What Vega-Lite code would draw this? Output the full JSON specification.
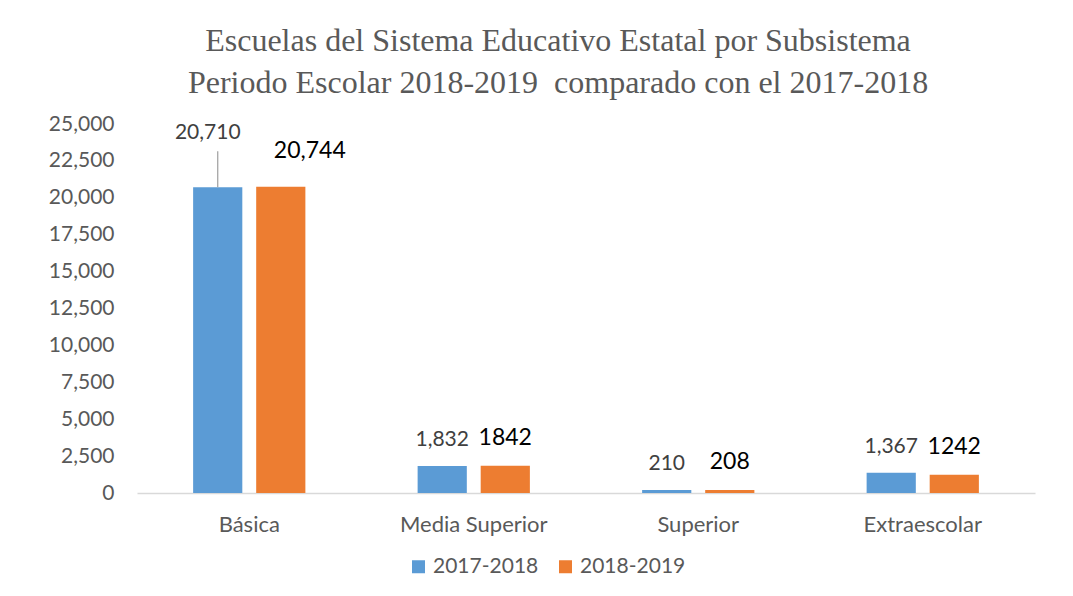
{
  "$schema": "https://vega.github.io/schema/vega-lite/v6.json",
  "width": 898,
  "height": 369,
  "autosize": {"type": "none"},
  "padding": {"left": 137, "top": 124, "right": 38, "bottom": 103},
  "background": "white",
  "title": {
    "text": ["Escuelas del Sistema Educativo Estatal por Subsistema", "Periodo Escolar 2018-2019\u00a0 comparado con el 2017-2018"],
    "font": "Liberation Serif",
    "fontSize": 32,
    "fontWeight": "normal",
    "color": "#595959",
    "lineHeight": 42,
    "anchor": "middle",
    "dx": -28,
    "offset": 13
  },
  "data": {
    "values": [
      {"subsistema": "Básica", "periodo": "2017-2018", "escuelas": 20710, "etiqueta": "20,710"},
      {"subsistema": "Básica", "periodo": "2018-2019", "escuelas": 20744, "etiqueta": "20,744"},
      {"subsistema": "Media Superior", "periodo": "2017-2018", "escuelas": 1832, "etiqueta": "1,832"},
      {"subsistema": "Media Superior", "periodo": "2018-2019", "escuelas": 1842, "etiqueta": "1842"},
      {"subsistema": "Superior", "periodo": "2017-2018", "escuelas": 210, "etiqueta": "210"},
      {"subsistema": "Superior", "periodo": "2018-2019", "escuelas": 208, "etiqueta": "208"},
      {"subsistema": "Extraescolar", "periodo": "2017-2018", "escuelas": 1367, "etiqueta": "1,367"},
      {"subsistema": "Extraescolar", "periodo": "2018-2019", "escuelas": 1242, "etiqueta": "1242"}
    ]
  },
  "encoding": {
    "x": {
      "field": "subsistema", "type": "nominal",
      "sort": ["Básica", "Media Superior", "Superior", "Extraescolar"],
      "scale": {"paddingInner": 0.5, "paddingOuter": 0.25},
      "axis": {
        "title": null, "labelAngle": 0, "labelFont": "Lato", "labelFontSize": 22,
        "labelColor": "#595959", "labelPadding": 21, "ticks": false,
        "domainColor": "#d9d9d9", "domainWidth": 1.3
      }
    },
    "xOffset": {
      "field": "periodo", "type": "nominal",
      "scale": {"paddingInner": 0.22, "paddingOuter": 0}
    },
    "y": {
      "field": "escuelas", "type": "quantitative",
      "scale": {"domain": [0, 25000], "nice": false},
      "axis": {
        "title": null, "values": [0, 2500, 5000, 7500, 10000, 12500, 15000, 17500, 20000, 22500, 25000],
        "format": ",.0f", "grid": false, "domain": false, "ticks": false,
        "labelFont": "Lato", "labelFontSize": 21, "labelColor": "#595959", "labelPadding": 23
      }
    }
  },
  "layer": [
    {
      "mark": {"type": "bar"},
      "encoding": {
        "color": {
          "field": "periodo", "type": "nominal",
          "scale": {"domain": ["2017-2018", "2018-2019"], "range": ["#5B9BD5", "#ED7D31"]},
          "legend": {
            "title": null, "orient": "none", "direction": "horizontal",
            "legendX": 271, "legendY": 432,
            "symbolType": "square", "symbolSize": 169, "symbolStrokeWidth": 0,
            "labelFont": "Lato", "labelFontSize": 21, "labelColor": "#595959",
            "labelOffset": 4, "columnPadding": 16
          }
        }
      }
    },
    {
      "transform": [{"filter": "datum.subsistema === 'Básica' && datum.periodo === '2017-2018'"}],
      "mark": {"type": "rule", "color": "#a6a6a6", "strokeWidth": 1.3},
      "encoding": {
        "y2": {"datum": 23150}
      }
    },
    {
      "transform": [{"filter": "datum.subsistema !== 'Básica' && datum.periodo === '2017-2018'"}],
      "mark": {"type": "text", "font": "Lato", "fontSize": 21, "color": "#404040", "baseline": "middle", "dy": -26},
      "encoding": {"text": {"field": "etiqueta"}}
    },
    {
      "transform": [{"filter": "datum.subsistema !== 'Básica' && datum.periodo === '2018-2019'"}],
      "mark": {"type": "text", "font": "Lato", "fontSize": 23, "color": "#000000", "baseline": "middle", "dy": -28},
      "encoding": {"text": {"field": "etiqueta"}}
    },
    {
      "transform": [{"filter": "datum.subsistema === 'Básica' && datum.periodo === '2017-2018'"}],
      "mark": {"type": "text", "font": "Lato", "fontSize": 21, "color": "#404040", "baseline": "middle", "dy": -54, "dx": -10},
      "encoding": {"text": {"field": "etiqueta"}}
    },
    {
      "transform": [{"filter": "datum.subsistema === 'Básica' && datum.periodo === '2018-2019'"}],
      "mark": {"type": "text", "font": "Lato", "fontSize": 23, "color": "#000000", "baseline": "middle", "dy": -36, "dx": 29},
      "encoding": {"text": {"field": "etiqueta"}}
    }
  ],
  "config": {"view": {"stroke": null}}
}
